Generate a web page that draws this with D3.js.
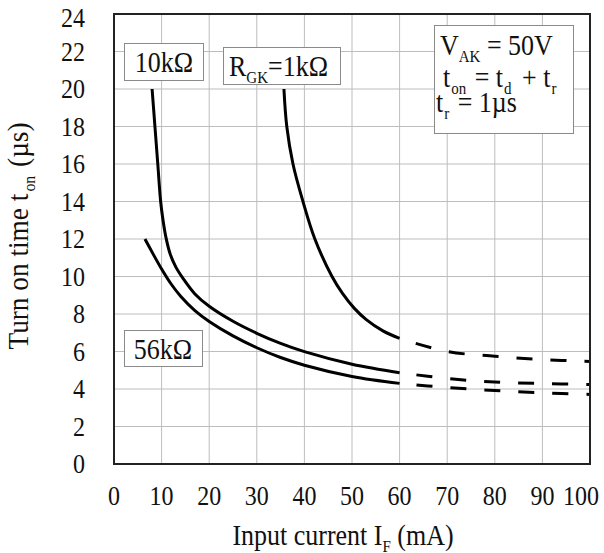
<!DOCTYPE html>
<html><head><meta charset="utf-8">
<script src="https://cdn.jsdelivr.net/npm/d3@7"></script>
<style>
body{margin:0;background:#fff;}
svg text{font-family:"Liberation Serif","Times New Roman",serif;fill:#111;}
</style></head>
<body><svg id="c" width="604" height="553"></svg>
<script>
// ---- data ----
const xTicks = [0,10,20,30,40,50,60,70,80,90,100];
const yTicks = [0,2,4,6,8,10,12,14,16,18,20,22,24];

const r1k_IF   = [35.7, 36.3, 37.6, 39.7, 42.2, 45.8, 48, 50.5, 53, 56.5, 60];
const r1k_ton  = [20, 18, 16, 14, 12, 10, 9.1, 8.3, 7.7, 7.1, 6.7];
const r1k_dIF  = [60, 70, 80, 90, 100];
const r1k_dton = [6.7, 6.0, 5.75, 5.57, 5.47];

const r10k_IF   = [8.0, 8.6, 9.2, 9.8, 10.3, 10.9, 11.8, 13, 14.5, 17, 20, 25, 30, 35, 40, 50, 60];
const r10k_ton  = [20, 18, 16, 14, 13, 12.1, 11.2, 10.5, 9.9, 9.07, 8.41, 7.61, 6.97, 6.43, 5.99, 5.32, 4.87];
const r10k_dIF  = [60, 70, 80, 90, 100];
const r10k_dton = [4.87, 4.56, 4.37, 4.29, 4.24];

const r56k_IF   = [6.5, 8, 10, 12, 14, 17, 20, 25, 30, 35, 40, 50, 60];
const r56k_ton  = [12.0, 11.3, 10.4, 9.6, 8.95, 8.18, 7.6, 6.83, 6.2, 5.68, 5.27, 4.67, 4.30];
const r56k_dIF  = [60, 70, 80, 90, 100];
const r56k_dton = [4.30, 4.08, 3.92, 3.80, 3.71];

// ---- layout ----
const svg = d3.select("#c");
const L = 114, R = 590, T = 14, B = 464;
const SY = 1.15; // vertical stretch of the glyphs
const x = d3.scaleLinear().domain([0,100]).range([L,R]);
const y = d3.scaleLinear().domain([0,24]).range([B,T]);
const tr = (px,py)=>`translate(${px},${py}) scale(1,${SY})`;

// grid
const g = svg.append("g");
g.selectAll("line.v").data(xTicks).join("line")
  .attr("x1",d=>x(d)).attr("x2",d=>x(d)).attr("y1",T).attr("y2",B)
  .attr("stroke","#bdbdbd").attr("stroke-width",1);
g.selectAll("line.h").data(yTicks).join("line")
  .attr("x1",L).attr("x2",R).attr("y1",d=>y(d)).attr("y2",d=>y(d))
  .attr("stroke","#bdbdbd").attr("stroke-width",1);

// tick labels
svg.append("g").selectAll("text").data(xTicks).join("text")
  .attr("transform",d=>tr(d===100 ? x(d)-9 : x(d), 505)).attr("text-anchor","middle")
  .attr("font-size",24).text(d=>d);
svg.append("g").selectAll("text").data(yTicks).join("text")
  .attr("transform",d=>tr(85, y(d)+(d===24 ? 13 : 9))).attr("text-anchor","end")
  .attr("font-size",24).text(d=>d);

// curves
const line = d3.line().x(d=>x(d[0])).y(d=>y(d[1])).curve(d3.curveCatmullRom.alpha(0.5));
const zip = (a,b)=>a.map((v,i)=>[v,b[i]]);
svg.append("clipPath").attr("id","pc").append("rect")
  .attr("x",L).attr("y",T).attr("width",R-L).attr("height",B-T);
const cg = svg.append("g").attr("clip-path","url(#pc)");
[[r1k_IF,r1k_ton],[r10k_IF,r10k_ton],[r56k_IF,r56k_ton]].forEach(([a,b])=>{
  cg.append("path").attr("d",line(zip(a,b))).attr("fill","none")
    .attr("stroke","#000").attr("stroke-width",3);
});
[[r1k_dIF,r1k_dton],[r10k_dIF,r10k_dton],[r56k_dIF,r56k_dton]].forEach(([a,b])=>{
  cg.append("path").attr("d",line(zip(a,b))).attr("fill","none")
    .attr("stroke","#000").attr("stroke-width",3)
    .attr("stroke-dasharray","16,18").attr("stroke-dashoffset",17);
});

// frame
svg.append("rect").attr("x",L).attr("y",T).attr("width",R-L).attr("height",B-T)
  .attr("fill","none").attr("stroke","#222").attr("stroke-width",2);

// helpers
function box(x0,y0,w,h){
  svg.append("rect").attr("x",x0).attr("y",y0).attr("width",w).attr("height",h)
    .attr("fill","#fff").attr("stroke","#8a8a8a").attr("stroke-width",1);
}
function rich(t, parts, fs, sfs){
  let down = false;
  parts.forEach(p=>{
    const ts = t.append("tspan");
    if(p.s!==undefined){
      ts.attr("font-size",sfs).attr("dy",down?0:6).text(p.s); down = true;
    } else {
      ts.attr("font-size",fs).attr("dy",down?-6:0).text(p.t); down = false;
    }
    if(p.dx) ts.attr("dx",p.dx);
  });
}

box(124.5,43.5,79,37);
svg.append("text").attr("transform",tr(164,72)).attr("text-anchor","middle").attr("font-size",26).text("10kΩ");
box(223.5,47.5,117,37);
rich(svg.append("text").attr("transform",tr(229,76)).attr("font-size",26),
  [{t:"R"},{s:"GK"},{t:"=1kΩ"}],26,15);
box(124.5,330.5,78,36);
svg.append("text").attr("transform",tr(163,359)).attr("text-anchor","middle").attr("font-size",26).text("56kΩ");

box(434.5,25.5,139,108);
rich(svg.append("text").attr("transform",tr(440,55)).attr("font-size",26),
  [{t:"V"},{s:"AK"},{t:" = 50V"}],26,15);
rich(svg.append("text").attr("transform",tr(443,87)).attr("font-size",26),
  [{t:"t"},{s:"on",dx:1},{t:" = t",dx:2},{s:"d",dx:1},{t:" + t",dx:4},{s:"r",dx:1}],26,15);
rich(svg.append("text").attr("transform",tr(436,112)).attr("font-size",26),
  [{t:"t"},{s:"r",dx:1},{t:" = 1µs",dx:2}],26,15);

// axis titles
rich(svg.append("text").attr("transform",tr(343,545)).attr("text-anchor","middle").attr("font-size",26),
  [{t:"Input current I"},{s:"F"},{t:" (mA)"}],26,15);
rich(svg.append("text").attr("transform","translate(28,236) rotate(-90) scale(1.05,1.1)")
    .attr("text-anchor","middle").attr("font-size",26),
  [{t:"Turn on time t"},{s:"on",dx:2},{t:" (µs)",dx:2}],26,15);
</script></body></html>
